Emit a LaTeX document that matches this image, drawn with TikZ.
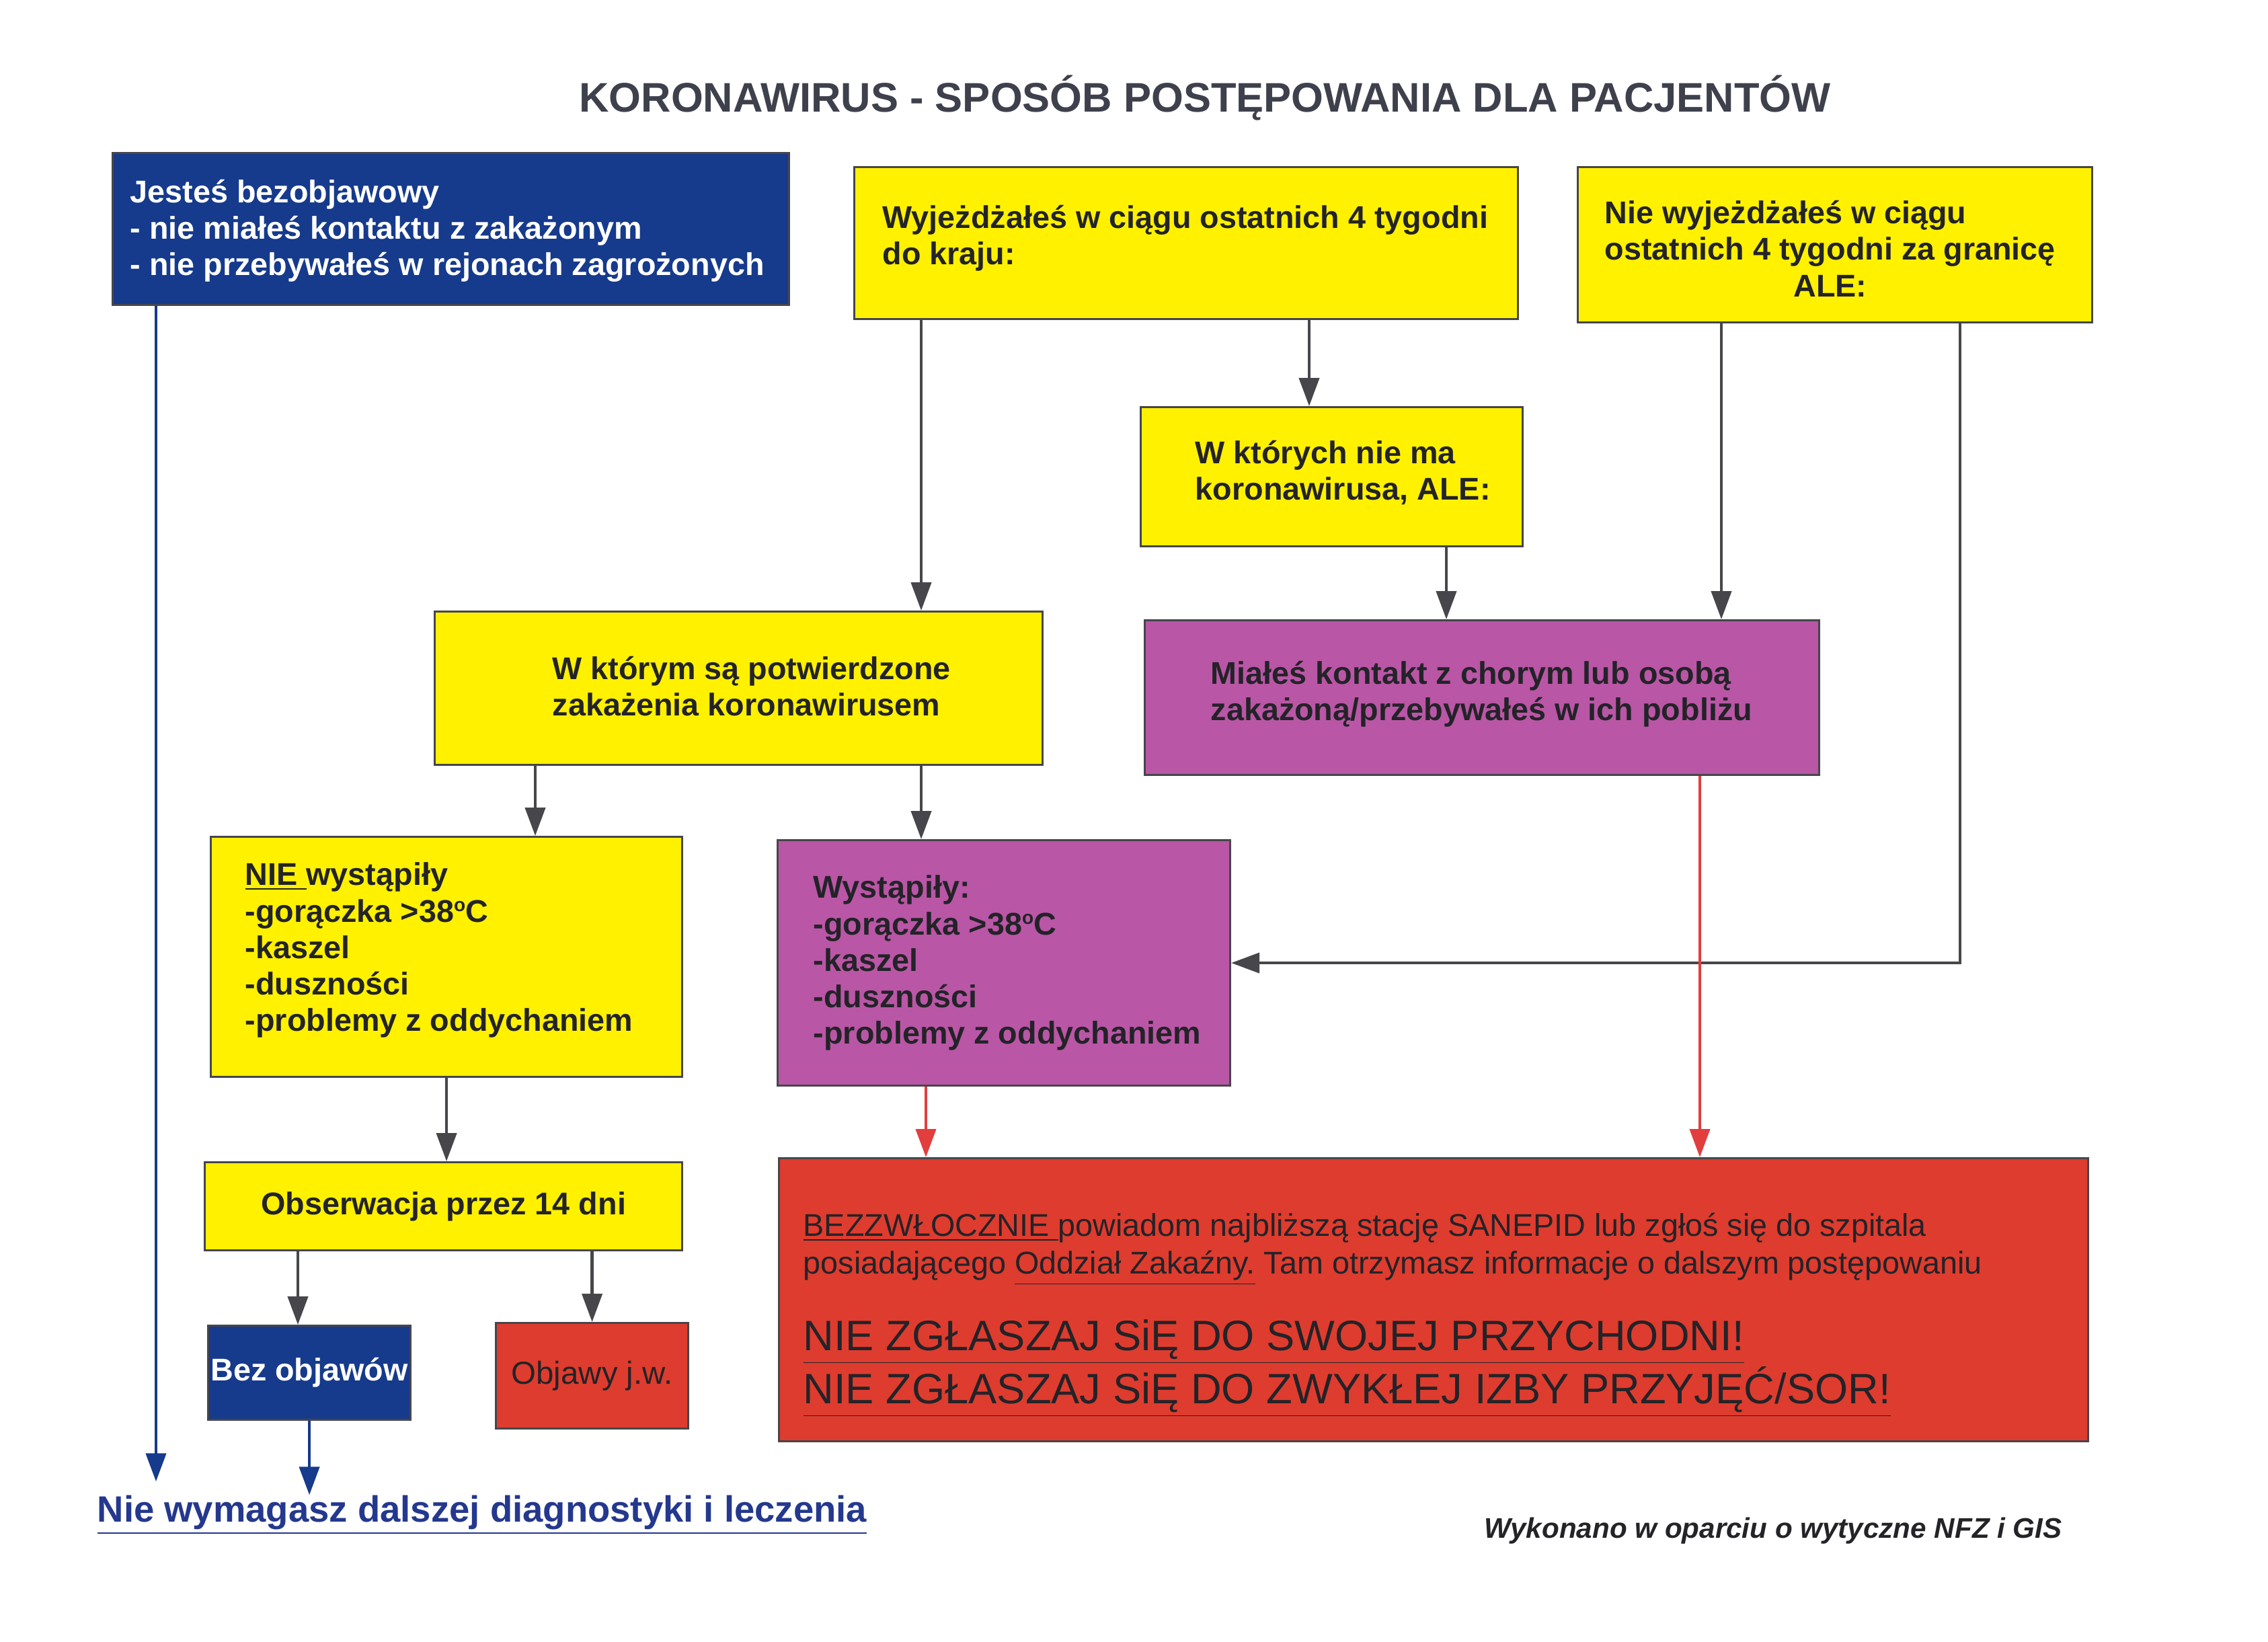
\documentclass[tikz,border=0pt]{standalone}
\usepackage{fontspec}
\setmainfont{Liberation Sans}
\usetikzlibrary{arrows.meta, positioning, calc}

\definecolor{nfzblue}{RGB}{22,58,140}
\definecolor{nfzyellow}{RGB}{255,241,0}
\definecolor{nfzpurple}{RGB}{186,86,166}
\definecolor{nfzred}{RGB}{222,60,46}
\definecolor{arrowred}{RGB}{226,62,62}
\definecolor{edge}{RGB}{70,70,75}
\definecolor{ink}{RGB}{35,35,40}
\definecolor{titleink}{RGB}{62,64,76}
\definecolor{linkblue}{RGB}{36,56,142}

\newcommand{\degsign}{\raisebox{0.62ex}{\fontsize{8}{8}\selectfont o}}

\begin{document}
\begin{tikzpicture}[
    % Styles
    box/.style={rectangle, draw=edge, line width=0.9pt, anchor=north west, inner sep=0pt, align=center, font=\fontsize{13.3}{15.4}\selectfont\bfseries},
    boxsize/.style 2 args={minimum width=#1cm, minimum height=#2cm},
    txt/.style={anchor=west, align=left, inner sep=0pt, font=\fontsize{13.3}{15.4}\selectfont\bfseries, text=ink},
    arrow/.style={-{Triangle[length=4.2mm, width=3mm]}, line width=1.2pt, draw=edge},
    redarrow/.style={arrow, draw=arrowred},
    bluearrow/.style={arrow, draw=nfzblue},
]
\useasboundingbox (0,0) rectangle (33.73,-24.41);

% === TITLE ===
\node[font=\fontsize{17.5}{20}\selectfont\bfseries, text=titleink] (title) at (17.92,-1.46) {KORONAWIRUS - SPOSÓB POSTĘPOWANIA DLA PACJENTÓW};

% === TOP ROW ===
\node[box, fill=nfzblue, boxsize={10.06}{2.26}] (safe) at (1.66,-2.26) {};
\node[txt, text=white] (safetxt) at ($(safe.west)+(0.27,-0.03)$) {Jesteś bezobjawowy\\- nie miałeś kontaktu z zakażonym\\- nie przebywałeś w rejonach zagrożonych};

\node[box, fill=nfzyellow, boxsize={9.87}{2.26}] (abroad) at (12.69,-2.47) {};
\node[txt] (abroadtxt) at ($(abroad.west)+(0.43,0.07)$) {Wyjeżdżałeś w ciągu ostatnich 4 tygodni\\do kraju:};

\node[box, fill=nfzyellow, boxsize={7.65}{2.31}] (noabroad) at (23.45,-2.47) {};
\node[txt] (noabroadtxt) at ($(noabroad.west)+(0.41,-0.12)$) {\begin{tabular}{@{}l@{}}Nie wyjeżdżałeś w ciągu\\ostatnich 4 tygodni za granicę\\\multicolumn{1}{@{}c@{}}{ALE:}\end{tabular}};

% === SECOND / THIRD ROW ===
\node[box, fill=nfzyellow, boxsize={5.68}{2.07}] (nocovid) at (16.95,-6.04) {};
\node[txt] (nocovidtxt) at ($(nocovid.west)+(0.82,0.06)$) {W których nie ma\\koronawirusa, ALE:};

\node[box, fill=nfzyellow, boxsize={9.04}{2.28}] (covid) at (6.45,-9.08) {};
\node[txt] (covidtxt) at ($(covid.west)+(1.76,0.03)$) {W którym są potwierdzone\\zakażenia koronawirusem};

\node[box, fill=nfzpurple, boxsize={10.03}{2.30}] (contact) at (17.01,-9.21) {};
\node[txt] (contacttxt) at ($(contact.west)+(0.99,0.05)$) {Miałeś kontakt z chorym lub osobą\\zakażoną/przebywałeś w ich pobliżu};

% === SYMPTOMS ===
\node[box, fill=nfzyellow, boxsize={7.01}{3.57}] (nosym) at (3.12,-12.43) {};
\node[txt] (nosymtxt) at ($(nosym.west)+(0.52,0.10)$) {\underline{NIE\ }wystąpiły\\-gorączka >38\degsign C\\-kaszel\\-duszności\\-problemy z oddychaniem};

\node[box, fill=nfzpurple, boxsize={6.73}{3.65}] (sym) at (11.55,-12.48) {};
\node[txt] (symtxt) at ($(sym.west)+(0.54,0)$) {Wystąpiły:\\-gorączka >38\degsign C\\-kaszel\\-duszności\\-problemy z oddychaniem};

% === BOTTOM ===
\node[box, fill=nfzyellow, text=ink, boxsize={7.10}{1.31}] (observe) at (3.03,-17.27) {Obserwacja przez 14 dni};
\node[box, fill=nfzblue, text=white, boxsize={3.01}{1.40}] (nosymbox) at (3.08,-19.70) {Bez objawów};
\node[box, fill=nfzred, text=ink, font=\fontsize{13.5}{16}\selectfont, boxsize={2.86}{1.57}] (symjw) at (7.36,-19.66) {Objawy j.w.};

\node[box, fill=nfzred, boxsize={19.47}{4.21}] (alarm) at (11.57,-17.21) {};
\node[txt, font=\fontsize{13.3}{16}\selectfont] (alarmtxt) at ($(alarm.north west)+(0.37,-1.37)$) {\underline{BEZZWŁOCZNIE\ }powiadom najbliższą stację SANEPID lub zgłoś się do szpitala\\posiadającego \underline{Oddział Zakaźny.}\ Tam otrzymasz informacje o dalszym postępowaniu};
\node[txt, font=\fontsize{18}{20.5}\selectfont] (warntxt) at ($(alarm.north west)+(0.37,-3.14)$) {\underline{NIE ZGŁASZAJ SiĘ DO SWOJEJ PRZYCHODNI!}\\\underline{NIE ZGŁASZAJ SiĘ DO ZWYKŁEJ IZBY PRZYJĘĆ/SOR!}};

\node[anchor=west, inner sep=0pt, font=\fontsize{15.5}{18}\selectfont\bfseries, text=linkblue] (advice) at (1.44,-22.53) {\underline{Nie wymagasz dalszej diagnostyki i leczenia}};
\node[font=\fontsize{12}{14}\selectfont\bfseries\itshape, text=ink] (credit) at (26.37,-22.77) {Wykonano w oparciu o wytyczne NFZ i GIS};

% === CONNECTORS ===
\draw[arrow] ($(abroad.south west)+(1.01,0)$) coordinate (a1) -- (a1 |- covid.north);
\draw[arrow] ($(abroad.south west)+(6.78,0)$) coordinate (a2) -- (a2 |- nocovid.north);
\draw[arrow] ($(nocovid.south west)+(4.56,0)$) coordinate (a3) -- (a3 |- contact.north);
\draw[arrow] ($(noabroad.south west)+(2.15,0)$) coordinate (a4) -- (a4 |- contact.north);
\draw[arrow] ($(noabroad.south west)+(5.70,0)$) |- (sym.east);
\draw[arrow] ($(covid.south west)+(1.51,0)$) coordinate (a5) -- (a5 |- nosym.north);
\draw[arrow] ($(covid.south west)+(7.25,0)$) coordinate (a6) -- (a6 |- sym.north);
\draw[arrow] (nosym.south) -- (nosym.south |- observe.north);
\draw[arrow] ($(observe.south west)+(1.40,0)$) coordinate (a7) -- (a7 |- nosymbox.north);
\draw[arrow] (symjw.north |- observe.south) -- (symjw.north);
\draw[redarrow] ($(sym.south west)+(2.22,0)$) coordinate (a8) -- (a8 |- alarm.north);
\draw[redarrow] ($(contact.south west)+(8.27,0)$) coordinate (a9) -- (a9 |- alarm.north);
\draw[bluearrow] ($(safe.south west)+(0.66,0)$) coordinate (a10) -- ($(a10 |- advice.north)+(0,0.2)$);
\draw[bluearrow] (nosymbox.south) -- (nosymbox.south |- advice.north);

\end{tikzpicture}
\end{document}
